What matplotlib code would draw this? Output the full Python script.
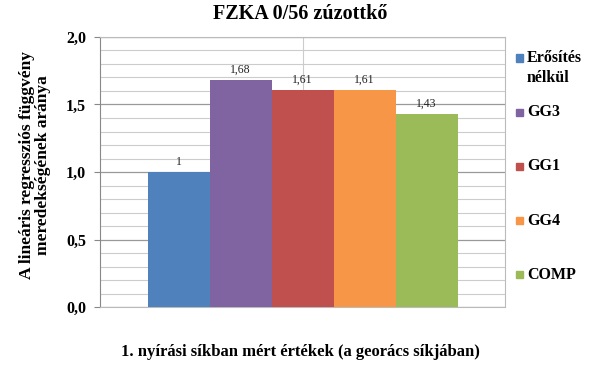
import matplotlib
matplotlib.use("Agg")
import matplotlib.pyplot as plt
from matplotlib.patches import Rectangle
import numpy as np

# adatok
series = ["Erősítés\nnélkül", "GG3", "GG1", "GG4", "COMP"]
values = [1.0, 1.68, 1.61, 1.61, 1.43]
value_labels = ["1", "1,68", "1,61", "1,61", "1,43"]
colors = ["#4F81BD", "#8064A2", "#C0504D", "#F79646", "#9BBB59"]
yticks = [0.0, 0.5, 1.0, 1.5, 2.0]
ytick_labels = ["0,0", "0,5", "1,0", "1,5", "2,0"]

plt.rcParams['font.family'] = ['Liberation Serif', 'DejaVu Serif']

W, H = 600, 366
fig = plt.figure(figsize=(W / 100, H / 100), dpi=100)
ax = fig.add_axes([0.167, 0.161, 0.675, 0.738])

width = 0.153
x = (np.arange(len(values)) - 2) * width
bars = ax.bar(x, values, width=width, color=colors, zorder=3)

for xi, v, lab in zip(x, values, value_labels):
    ax.text(xi, v + 0.03, lab, ha='center', va='bottom', fontsize=8.5, color='#222222')

ax.set_xlim(-0.5, 0.5)
ax.set_ylim(0, 2.0)
ax.set_xticks([])
ax.set_yticks(yticks)
ax.set_yticklabels(ytick_labels, fontsize=11.5, fontweight='bold')
ax.set_yticks(np.arange(0, 2.01, 0.1), minor=True)
ax.tick_params(axis='y', which='major', length=4, color='#888888', pad=6)
ax.tick_params(axis='y', which='minor', length=0)
ax.grid(axis='y', which='major', color='#999999', linewidth=0.9, zorder=0)
ax.grid(axis='y', which='minor', color='#cccccc', linewidth=0.8, zorder=0)
ax.axvline(0, color='#cccccc', linewidth=0.8, zorder=0)
for s in ax.spines.values():
    s.set_color('#bbbbbb')
    s.set_linewidth(0.8)
ax.spines['left'].set_color('#888888')

fig.text(0.5, 1 - 14 / H, "FZKA 0/56 zúzottkő", fontsize=14.5, fontweight='bold',
         ha='center', va='center')
fig.text(35 / W, 1 - 165 / H, "A lineáris regressziós függvény\nmeredekségének aránya",
         fontsize=12.5, fontweight='bold', rotation=90, ha='center', va='center',
         linespacing=1.05)
fig.text(0.5, 1 - 352 / H, "1. nyírási síkban mért értékek (a georács síkjában)",
         fontsize=12, fontweight='bold', ha='center', va='center')

# jelmagyarázat kézzel
for i, (lab, c) in enumerate(zip(series, colors)):
    ypx = 58 + i * 54.2
    fig.patches.append(Rectangle((516 / W, 1 - (ypx + 3.5) / H), 7 / W, 7 / H,
                                 transform=fig.transFigure, color=c, figure=fig))
    fig.text(527 / W, 1 - ypx / H, lab, fontsize=11.5, fontweight='bold',
             ha='left', va='top' if '\n' in lab else 'center', linespacing=1.35,
             position=(527 / W, 1 - (ypx - 8) / H) if '\n' in lab else (527 / W, 1 - ypx / H))

fig.savefig("out.png", dpi=100)
